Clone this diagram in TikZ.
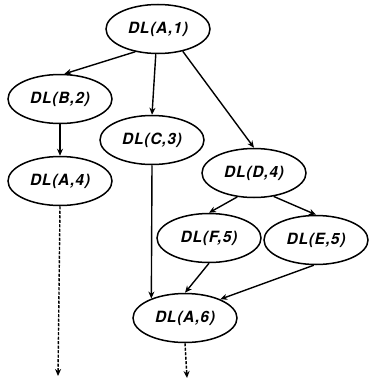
\documentclass[tikz,border=0pt]{standalone}
\usepackage{fontspec}
\setsansfont{TeX Gyre Heros}[LetterSpace=5]
\usepackage{tikz}
\usetikzlibrary{shapes.geometric,arrows.meta}

\begin{document}
\begin{tikzpicture}[
    x=1pt, y=-1pt,
    dl/.style={ellipse, draw, line width=1.5pt, minimum width=104pt, minimum height=49pt, inner sep=0pt, font=\sffamily\bfseries\itshape\fontsize{15.5}{18}\selectfont},
    arrow/.style={-{Stealth[length=7pt,width=6pt]}, line width=1.4pt},
    dasharrow/.style={arrow, dash pattern=on 3pt off 1.5pt}
]
\useasboundingbox (0,0) rectangle (368,380);

% Nodes
\node[dl] (a1) at (158,29) {DL(A,1)};
\node[dl] (b2) at (60,99) {DL(B,2)};
\node[dl] (c3) at (152,140) {DL(C,3)};
\node[dl] (a4) at (60,181) {DL(A,4)};
\node[dl] (d4) at (254,173) {DL(D,4)};
\node[dl] (f5) at (209,238) {DL(F,5)};
\node[dl] (e5) at (316,240) {DL(E,5)};
\node[dl] (a6) at (185,318) {DL(A,6)};
\coordinate (endl) at (58,376);
\coordinate (endr) at (187,378);

% Edges
\draw[arrow] (a1.225) -- (b2.80);
\draw[arrow] (a1.265) -- (c3.north);
\draw[arrow] (a1.318) -- (d4.north);
\draw[arrow] (b2.south) -- (a4.north);
\draw[arrow] (c3.south) -- (a6.150);
\draw[arrow] (d4.235) -- (f5.north);
\draw[arrow] (d4.310) -- (e5.north);
\draw[arrow] (f5.south) -- (a6.north);
\draw[arrow] (e5.265) -- (a6.28);
\draw[dasharrow] (a4.south) -- (endl);
\draw[dasharrow] (a6.south) -- (endr);

\end{tikzpicture}
\end{document}
